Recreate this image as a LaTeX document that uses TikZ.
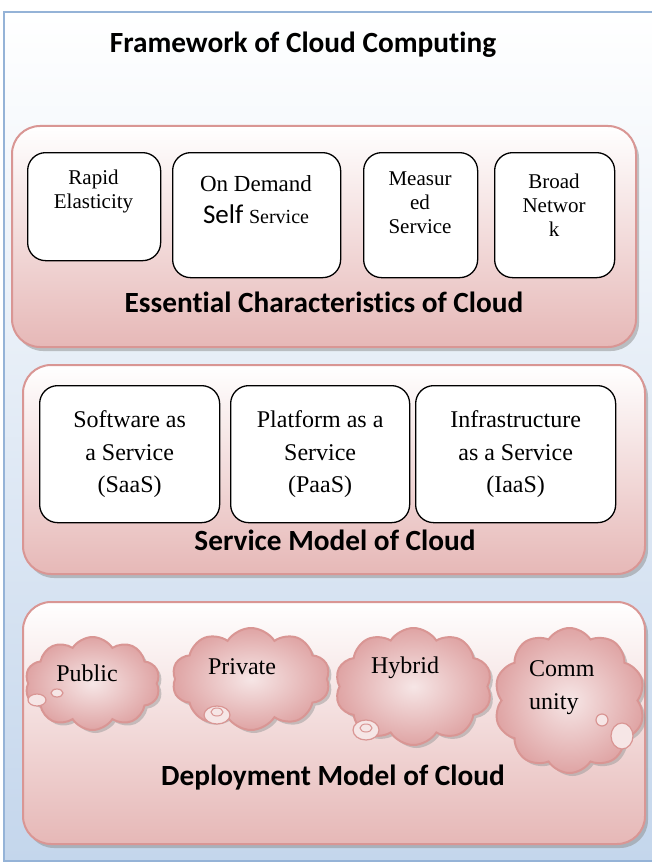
\documentclass[tikz,border=0pt]{standalone}
\usepackage{fontspec}
\setmainfont{Liberation Serif}
\newfontfamily\calib[Ligatures=NoCommon]{Carlito}
\usetikzlibrary{shapes.symbols, shadows}

\definecolor{frameblue}{HTML}{95B3D7}
\definecolor{bgblue}{HTML}{C4D6EC}
\definecolor{rosebd}{HTML}{D99694}
\definecolor{rosefill}{HTML}{E6B8B7}
\definecolor{cloudin}{HTML}{F6E6E6}
\definecolor{cloudout}{HTML}{DFA4A4}

\begin{document}
\begin{tikzpicture}[x=1pt, y=-1pt,
    layer/.style={draw=rosebd, line width=2pt, rounded corners=28pt, top color=white, bottom color=rosefill,
      drop shadow={shadow xshift=3pt, shadow yshift=-4pt, fill=black!45}},
    card/.style={draw=black, line width=1.3pt, fill=white, rounded corners=18pt},
    cardtext/.style={align=center, inner sep=0pt, font=\fontsize{21}{24}\selectfont},
    modeltext/.style={align=center, inner sep=0pt, font=\fontsize{24}{32.5}\selectfont},
    heading/.style={inner sep=0pt, font=\calib\bfseries\fontsize{29.3}{34}\selectfont},
    puff/.style={cloud, cloud puffs=10, cloud puff arc=115, draw=rosebd, line width=2pt, inner color=cloudin, outer color=cloudout,
      drop shadow={shadow xshift=3pt, shadow yshift=-3pt, fill=black!40}},
    cloudtext/.style={inner sep=0pt, align=left, font=\fontsize{24}{33}\selectfont},
    bubble/.style={draw=rosebd, line width=1.2pt, fill=cloudin}]
  \useasboundingbox (0,0) rectangle (651,864);
  \draw[draw=frameblue, line width=2.5pt, top color=white, bottom color=bgblue] (4,12) rectangle (664,861);
  \node[heading] (title) at (303,45) {Framework of Cloud Computing};

  \node[layer, minimum width=624pt, minimum height=221pt] (essential) at (324,236.5) {};
  \node[card, anchor=north west, minimum width=133pt, minimum height=108pt] (rapid) at (27,152) {};
  \node[card, anchor=north west, minimum width=168pt, minimum height=125pt] (ondemand) at (172,152) {};
  \node[card, anchor=north west, minimum width=114pt, minimum height=125pt] (measured) at (363,152) {};
  \node[card, anchor=north west, minimum width=120pt, minimum height=125pt] (broad) at (494,152) {};
  \node[cardtext] (rapidtxt) at (93.5,191.5) {Rapid\\Elasticity};
  \node[cardtext, font=\fontsize{23}{26}\selectfont] (ondemandtxt) at (256,200) {On Demand\\[6pt]{\calib\fontsize{27}{30}\selectfont Self} {\fontsize{20}{24}\selectfont Service}};
  \node[cardtext] (measuredtxt) at (420,203) {Measur\\ed\\Service};
  \node[cardtext] (broadtxt) at (554,205) {Broad\\Networ\\k};
  \node[heading] (esshead) at (324,302) {Essential Characteristics of Cloud};

  \node[layer, minimum width=622pt, minimum height=209pt] (service) at (334,469.5) {};
  \foreach \nm/\bx/\bw/\txt in {saas/39/180/{Software as\\a Service\\(SaaS)},
                               paas/230/179/{Platform as a\\Service\\(PaaS)},
                               iaas/415/200/{Infrastructure\\as a Service\\(IaaS)}}
    \node[card, modeltext, anchor=north west, minimum width=\bw pt, minimum height=137pt] (\nm) at (\bx,385) {\txt};
  \node[heading] (servhead) at (335,540) {Service Model of Cloud};

  \node[layer, minimum width=622pt, minimum height=242pt] (deploy) at (334,723) {};
  \node[puff, minimum width=135pt, minimum height=93pt] (publiccl) at (92.5,683.5) {};
  \node[puff, minimum width=158pt, minimum height=102pt] (privatecl) at (251,679) {};
  \node[puff, minimum width=157pt, minimum height=117pt] (hybridcl) at (413.5,686.5) {};
  \node[puff, minimum width=151pt, minimum height=145pt] (communitycl) at (569.5,700.5) {};

  \draw[bubble] (37,700) ellipse [x radius=9pt, y radius=6pt];
  \draw[bubble] (57,693) ellipse [x radius=6pt, y radius=4pt];
  \draw[bubble] (217,715) ellipse [x radius=13pt, y radius=9pt];
  \draw[rosebd, line width=1pt] (217,712) ellipse [x radius=6pt, y radius=4pt];
  \draw[bubble] (366,730) ellipse [x radius=13pt, y radius=10pt];
  \draw[rosebd, line width=1pt] (366,728) ellipse [x radius=6pt, y radius=4pt];
  \draw[bubble] (602,720) ellipse [x radius=6pt, y radius=6pt];
  \draw[bubble] (622,736) ellipse [x radius=11pt, y radius=13pt];

  \node[cloudtext] (publictxt) at (87,673) {Public};
  \node[cloudtext] (privatetxt) at (242,667) {Private};
  \node[cloudtext] (hybridtxt) at (405,668) {Hybrid};
  \node[cloudtext, anchor=west] (communitytxt) at (529,688) {Comm\\unity};
  \node[heading] (deployhead) at (333,778) {Deployment Model of Cloud};
\end{tikzpicture}
\end{document}
